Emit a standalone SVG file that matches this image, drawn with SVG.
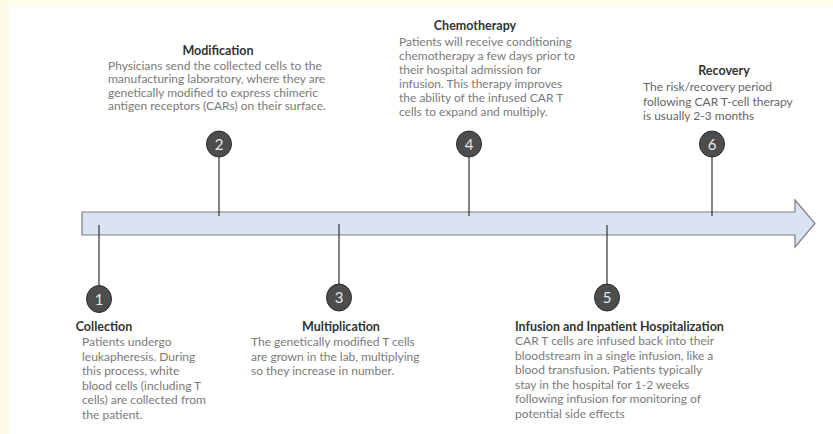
<svg xmlns="http://www.w3.org/2000/svg" width="833" height="434" viewBox="0 0 833 434">
<style>
.t{font-family:Lato,"Open Sans","Liberation Sans",sans-serif;font-size:12.5px;font-weight:bold;fill:#333;text-anchor:middle}
.b{font-family:Lato,"Open Sans","Liberation Sans",sans-serif;font-size:12px;fill:#7a7a7a}
.c{fill:#4d4d4d;stroke:#2b2b2b;stroke-width:1}
.n{font-family:Lato,"Open Sans","Liberation Sans",sans-serif;font-size:15px;fill:#e8e8e8;text-anchor:middle}
.l{stroke:#333;stroke-width:1.2}
</style>
<rect x="0" y="0" width="833" height="434" fill="#fffbea"/>
<rect x="9" y="7" width="824" height="427" fill="#ffffff"/>
<g id="connectors">
<polygon id="timeline" points="82,212 795,212 795,200 815,223.5 795,247 795,235 82,235" fill="#dae3f3" stroke="#7f7f7f" stroke-width="1.2"/>
<line class="l" x1="219" y1="157" x2="219" y2="216"/>
<line class="l" x1="469" y1="157" x2="469" y2="216"/>
<line class="l" x1="712" y1="157" x2="712" y2="216"/>
<line class="l" x1="99" y1="225" x2="99" y2="285"/>
<line class="l" x1="339" y1="224" x2="339" y2="284"/>
<line class="l" x1="607" y1="225" x2="607" y2="284"/>
</g>
<g id="step1">
<ellipse class="c" cx="99" cy="299" rx="12.5" ry="13.5"/>
<text class="n" x="99" y="304.5">1</text>
<text class="t" x="104" y="331">Collection</text>
<text class="b"><tspan x="82" y="346">Patients undergo</tspan><tspan x="82" y="360.5">leukapheresis. During</tspan><tspan x="82" y="375">this process, white</tspan><tspan x="82" y="389.5">blood cells (including T</tspan><tspan x="82" y="404">cells) are collected from</tspan><tspan x="82" y="418.5">the patient.</tspan></text>
</g>
<g id="step2">
<ellipse class="c" cx="219" cy="144" rx="12.5" ry="13"/>
<text class="n" x="219" y="149.5">2</text>
<text class="t" x="218" y="55">Modification</text>
<text class="b"><tspan x="108" y="69.5">Physicians send the collected cells to the</tspan><tspan x="108" y="83">manufacturing laboratory, where they are</tspan><tspan x="108" y="96.5">genetically modified to express chimeric</tspan><tspan x="108" y="110">antigen receptors (CARs) on their surface.</tspan></text>
</g>
<g id="step3">
<ellipse class="c" cx="339" cy="297.5" rx="12.5" ry="13.5"/>
<text class="n" x="339" y="303">3</text>
<text class="t" x="341" y="331">Multiplication</text>
<text class="b"><tspan x="251" y="346">The genetically modified T cells</tspan><tspan x="251" y="360.5">are grown in the lab, multiplying</tspan><tspan x="251" y="375">so they increase in number.</tspan></text>
</g>
<g id="step4">
<ellipse class="c" cx="469" cy="144" rx="12.5" ry="13"/>
<text class="n" x="469" y="149.5">4</text>
<text class="t" x="475" y="29.5">Chemotherapy</text>
<text class="b"><tspan x="399" y="46">Patients will receive conditioning</tspan><tspan x="399" y="60">chemotherapy a few days prior to</tspan><tspan x="399" y="74">their hospital admission for</tspan><tspan x="399" y="88">infusion. This therapy improves</tspan><tspan x="399" y="102">the ability of the infused CAR T</tspan><tspan x="399" y="116">cells to expand and multiply.</tspan></text>
</g>
<g id="step5">
<ellipse class="c" cx="607" cy="297.5" rx="12.5" ry="13.5"/>
<text class="n" x="607" y="303">5</text>
<text class="t" x="515" y="330.5" style="text-anchor:start">Infusion and Inpatient Hospitalization</text>
<text class="b"><tspan x="515" y="345">CAR T cells are infused back into their</tspan><tspan x="515" y="359.5">bloodstream in a single infusion, like a</tspan><tspan x="515" y="374">blood transfusion. Patients typically</tspan><tspan x="515" y="388.5">stay in the hospital for 1-2 weeks</tspan><tspan x="515" y="403">following infusion for monitoring of</tspan><tspan x="515" y="417.5">potential side effects</tspan></text>
</g>
<g id="step6">
<ellipse class="c" cx="712" cy="144" rx="12.5" ry="13"/>
<text class="n" x="712" y="149.5">6</text>
<text class="t" x="724" y="74.5">Recovery</text>
<text class="b" style="fill:#666"><tspan x="643" y="91">The risk/recovery period</tspan><tspan x="643" y="105.5">following CAR T-cell therapy</tspan><tspan x="643" y="120">is usually 2-3 months</tspan></text>
</g>
</svg>
